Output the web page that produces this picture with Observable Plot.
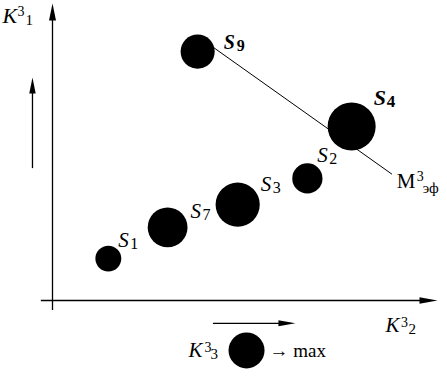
<!DOCTYPE html>
<html><head><meta charset="utf-8">
<script src="https://cdn.jsdelivr.net/npm/d3@7"></script>
<script src="https://cdn.jsdelivr.net/npm/@observablehq/plot@0.6"></script>
<style>
body{margin:0;background:#fff}
#chart svg{display:block}
</style>
</head><body><div id="chart"></div>
<script>
// ---- data (K3_2 on x, K3_1 on y, K3_3 as circle size) ----
const names  = ["S1", "S7", "S3", "S2", "S4", "S9"];
const subs   = ["1", "7", "3", "2", "4", "9"];
const k2     = [14.5, 29.9, 48.1, 66.2, 77.7, 37.7];
const k1     = [14.1, 24.6, 32.3, 41.1, 58.6, 83.8];
const k3     = [5.4, 8.3, 9.2, 6.3, 10.0, 7.1];
const emph   = [false, false, false, false, true, true];
// efficiency line M3эф
const lineK2 = [41.8, 88.1];
const lineK1 = [85.2, 42.6];
const legendK3 = 7.5;

// ---- layout ----
const serif = "Liberation Serif";
const labelOff = {S1: [10, -12], S7: [23, -9], S3: [23, -14], S2: [10, -16], S4: [22, -21], S9: [26, -3]};
const legendPos = {x: 50.4, y: -16.8};

const pts = names.map((n, i) => ({name: n, sub: subs[i], k2: k2[i], k1: k1[i], k3: k3[i], emph: emph[i]}));
const effLine = lineK2.map((x, i) => ({x, y: lineK1[i]}));

function head(len, half) {
  return {draw(ctx) { ctx.moveTo(0, 0); ctx.lineTo(-len, -half); ctx.lineTo(-len, half); ctx.closePath(); }};
}

function rich(data, x, y, parts) {
  return parts.map(p => Plot.text(data, {
    x, y, text: () => p.t, dx: p.dx, dy: p.dy, fontSize: p.size,
    fontStyle: p.style || "normal", fontWeight: p.weight || "normal",
    fontFamily: serif, textAnchor: "start", lineAnchor: "bottom", fill: "black"
  }));
}

const labelMarks = pts.flatMap(p => {
  const [ox, oy] = labelOff[p.name];
  const big = p.name === "S4" ? 22 : p.emph ? 20 : 21;
  const subSize = p.emph ? (p.name === "S4" ? 17 : 16) : 16;
  return rich([p], "k2", "k1", [
    {t: "S", dx: ox, dy: oy, size: big, style: "italic", weight: p.emph ? "bold" : "normal"},
    {t: p.sub, dx: ox + (p.emph ? 13 : 12), dy: oy + 2, size: subSize, weight: p.emph ? "bold" : "normal"}
  ]);
});

const yTop = [{x: 0, y: 100}];
const xEnd = [{x: 100, y: 0}];
const endM = [effLine[1]];
const legendDot = [{x: legendPos.x, y: legendPos.y, k3: legendK3}];

const chart = Plot.plot({
  width: 447, height: 376,
  marginTop: 0, marginRight: 0, marginBottom: 0, marginLeft: 0,
  x: {domain: [0, 100], range: [52, 437], axis: null},
  y: {domain: [0, 100], range: [300, 3], axis: null},
  r: {type: "linear", domain: [0, 10], range: [0, 24]},
  style: {background: "#fff"},
  marks: [
    // axes
    Plot.ruleY([0], {x1: -2.9, x2: 96, stroke: "black", strokeWidth: 1.3}),
    Plot.ruleX([0], {y1: -3.4, y2: 96, stroke: "black", strokeWidth: 1.3}),
    Plot.dot(xEnd, {x: "x", y: "y", symbol: head(18, 3.3), fill: "black", stroke: null}),
    Plot.dot(yTop, {x: "x", y: "y", symbol: head(17, 3.5), rotate: -90, fill: "black", stroke: null}),
    // direction arrows
    Plot.ruleX([-5.2], {y1: 44.4, y2: 71, stroke: "black", strokeWidth: 1.3}),
    Plot.dot([{x: -5.2, y: 75.1}], {x: "x", y: "y", symbol: head(16, 3.2), rotate: -90, fill: "black", stroke: null}),
    Plot.ruleY([-7.7], {x1: 41.8, x2: 60, stroke: "black", strokeWidth: 1.3}),
    Plot.dot([{x: 63.1, y: -7.7}], {x: "x", y: "y", symbol: head(17, 3), fill: "black", stroke: null}),
    // efficiency line
    Plot.line(effLine, {x: "x", y: "y", stroke: "black", strokeWidth: 1}),
    // circles
    Plot.dot(pts, {x: "k2", y: "k1", r: "k3", fill: "black", stroke: null}),
    ...labelMarks,
    // axis titles
    ...rich(yTop, "x", "y", [
      {t: "K", dx: -50, dy: 19, size: 22, style: "italic"},
      {t: "3", dx: -35, dy: 12, size: 14},
      {t: "1", dx: -27, dy: 21, size: 15}
    ]),
    ...rich(xEnd, "x", "y", [
      {t: "K", dx: -52, dy: 31, size: 21, style: "italic"},
      {t: "3", dx: -36.5, dy: 26, size: 14},
      {t: "2", dx: -29, dy: 33, size: 15}
    ]),
    ...rich(endM, "x", "y", [
      {t: "M", dx: 5, dy: 14.5, size: 21},
      {t: "3", dx: 25, dy: 7.5, size: 14},
      {t: "эф", dx: 31, dy: 19.5, size: 15}
    ]),
    // legend
    Plot.dot(legendDot, {x: "x", y: "y", r: "k3", fill: "black", stroke: null}),
    ...rich(legendDot, "x", "y", [
      {t: "K", dx: -58, dy: 7, size: 21, style: "italic"},
      {t: "3", dx: -42, dy: 2, size: 14},
      {t: "3", dx: -36, dy: 9, size: 15},
      {t: "→ max", dx: 23, dy: 7, size: 19}
    ])
  ]
});
document.getElementById("chart").append(chart);
</script>
</body></html>
